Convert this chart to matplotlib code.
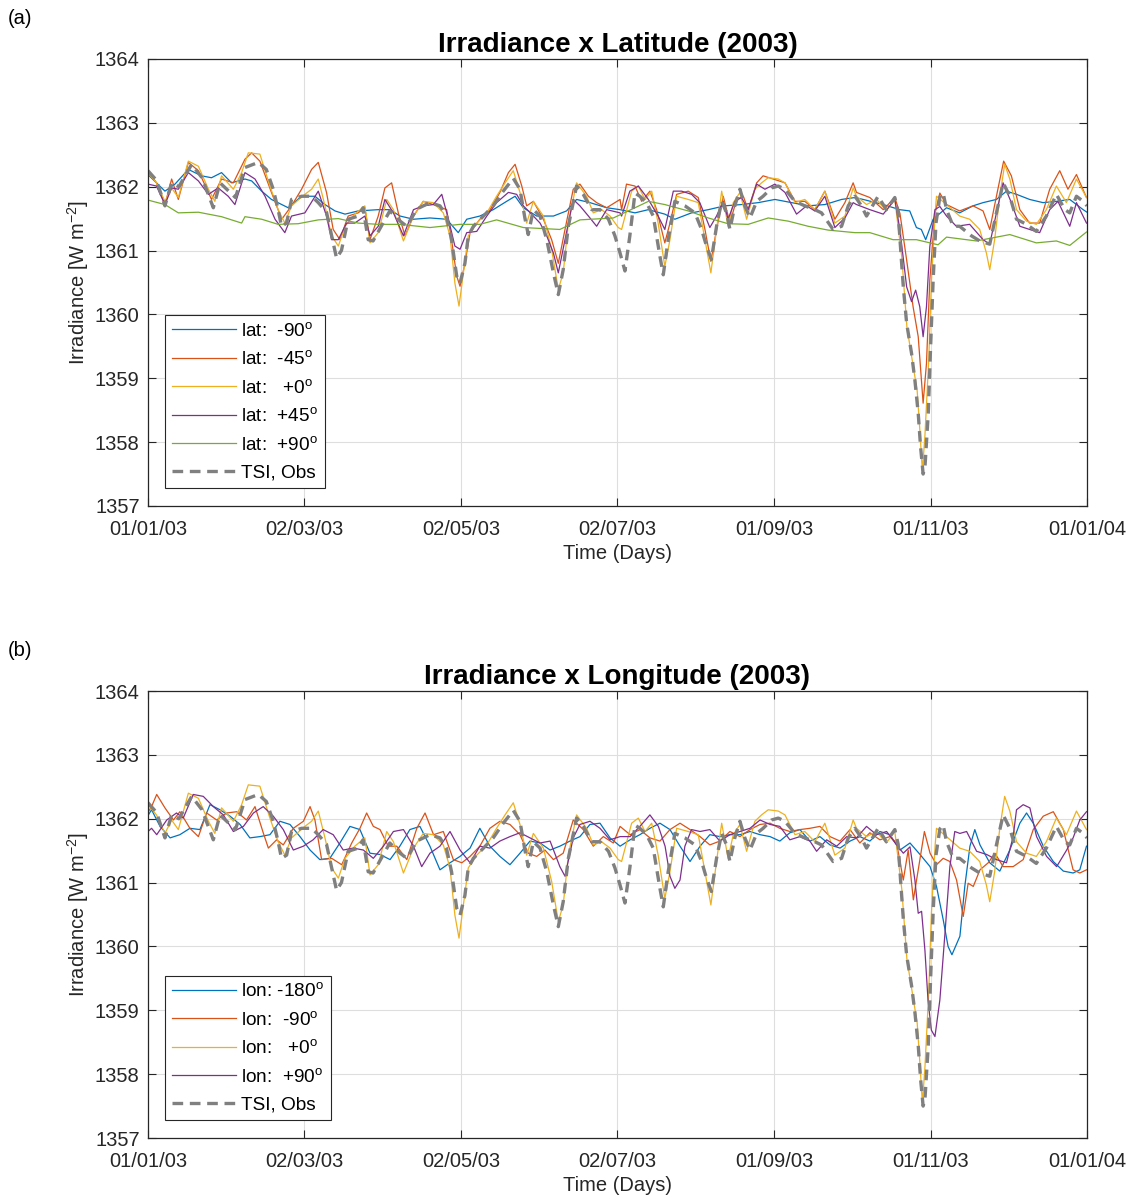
import matplotlib
matplotlib.use("Agg")
import matplotlib.pyplot as plt

plt.rcParams['font.family'] = ['Liberation Sans', 'DejaVu Sans']
plt.rcParams['mathtext.fontset'] = 'custom'
plt.rcParams['mathtext.rm'] = 'Liberation Sans'
plt.rcParams['mathtext.default'] = 'regular'

# DATA  (day of year 2003, irradiance W m-2)
tick_days = [0, 60.83, 121.67, 182.5, 243.33, 304.17, 365]
tick_labels = ['01/01/03', '02/03/03', '02/05/03', '02/07/03', '01/09/03', '01/11/03', '01/01/04']

tsi_day = [0, 3.3, 6.6, 9.2, 12, 17, 21, 25.4, 28, 34, 37.7, 42.9, 46, 48.7, 50.6, 51.9, 53.9, 55.8,
           59.7, 63.6, 66.2, 69.4, 72, 73.3, 75.2, 77.8, 81.7, 83.6, 85.6, 87.5, 90, 94, 98, 100.6,
           104.5, 109.6, 113.5, 116, 118, 120, 121.3, 123.2, 124.5, 126.5, 130.4, 134.2, 138.1, 142,
           144.6, 146.5, 147.8, 149.8, 152.4, 155, 157.6, 159.5, 161.4, 163.4, 166.6, 169.2, 172.5,
           175.7, 179, 181.5, 183.5, 185.4, 187.3, 189.3, 191.2, 193.8, 196.4, 199, 200.3, 202.2,
           204.8, 208.7, 212.6, 215.2, 217.1, 219, 221, 223, 224.9, 226.2, 228.1, 230.1, 232, 234,
           236.6, 239.1, 242.4, 245, 247.6, 251.5, 255.3, 259.2, 261.8, 266.3, 269.6, 272.2, 274.8,
           277, 279.3, 283.8, 287, 290.3, 291.6, 292.6, 293.6, 294.9, 296.8, 298.1, 299.4, 300.3,
           301.3, 302, 303.3, 304.2, 305.2, 306.3, 307.8, 309.1, 310.4, 313, 315.5, 320.1, 323.3,
           327.2, 329.8, 332.4, 335, 337.6, 341.5, 345.3, 349.2, 353.1, 356.4, 358.3, 360.9, 363.5, 365]
tsi_val = [1362.25, 1362.10, 1361.70, 1362.06, 1362.00, 1362.35, 1362.14, 1361.67, 1362.06, 1361.83,
           1362.30, 1362.38, 1362.27, 1361.96, 1361.64, 1361.38, 1361.43, 1361.80, 1361.85, 1361.85,
           1361.75, 1361.60, 1361.12, 1360.88, 1361.00, 1361.49, 1361.54, 1361.67, 1361.17, 1361.15,
           1361.33, 1361.62, 1361.46, 1361.38, 1361.65, 1361.75, 1361.70, 1361.54, 1361.17, 1360.60,
           1360.49, 1360.80, 1361.23, 1361.38, 1361.54, 1361.70, 1361.93, 1362.13, 1361.96, 1361.51,
           1361.25, 1361.64, 1361.54, 1361.17, 1360.65, 1360.31, 1360.70, 1361.38, 1362.01, 1361.88,
           1361.64, 1361.64, 1361.49, 1361.23, 1360.96, 1360.68, 1361.23, 1361.90, 1361.85, 1361.75,
           1361.54, 1360.91, 1360.62, 1361.17, 1361.77, 1361.70, 1361.59, 1361.33, 1361.07, 1360.86,
           1361.38, 1361.77, 1361.59, 1361.33, 1361.70, 1361.96, 1361.70, 1361.51, 1361.77, 1361.85,
           1361.98, 1362.01, 1361.96, 1361.77, 1361.70, 1361.64, 1361.59, 1361.33, 1361.38, 1361.70,
           1361.85, 1361.72, 1361.54, 1361.85, 1361.64, 1361.83, 1361.60, 1361.00, 1360.43, 1359.86,
           1359.39, 1358.97, 1358.45, 1357.93, 1357.50, 1357.60, 1358.45, 1359.49, 1360.54, 1361.43,
           1361.84, 1361.90, 1361.64, 1361.38, 1361.38, 1361.23, 1361.15, 1361.10, 1361.59, 1362.06,
           1361.85, 1361.49, 1361.41, 1361.30, 1361.54, 1361.88, 1361.64, 1361.59, 1361.85, 1361.77,
           1361.70]

# latitude -90
latm90_day = [0, 6.6, 10.5, 15.7, 20.8, 24.7, 28.6, 32.5, 37.7, 40.3, 44.2, 48, 52, 54.5, 59.7, 64.9,
              68.8, 72.7, 76.6, 81.7, 89.5, 94, 98, 103.2, 109.6, 116.1, 120.6, 123.9, 129, 134.2,
              139.4, 142.7, 145.9, 151.1, 157.6, 162.7, 166.6, 171.8, 178.3, 183.5, 189.3, 194.5,
              200.9, 204.8, 211.3, 217.8, 224.2, 230.7, 237.2, 243.7, 250.2, 256.6, 263.1, 269.6,
              274.8, 278, 285.8, 292.2, 296.1, 298.7, 300.6, 302.3, 305.2, 310.4, 315.5, 320.7, 324.6,
              329.8, 333.7, 337.6, 342.7, 347.9, 353.1, 358.3, 363.5, 365]
latm90_val = [1362.19, 1361.93, 1362.04, 1362.27, 1362.17, 1362.14, 1362.22, 1362.06, 1362.12, 1362.09,
              1361.93, 1361.80, 1361.72, 1361.67, 1361.85, 1361.85, 1361.72, 1361.62, 1361.57, 1361.62,
              1361.64, 1361.64, 1361.54, 1361.49, 1361.51, 1361.49, 1361.28, 1361.49, 1361.54, 1361.64,
              1361.77, 1361.85, 1361.67, 1361.54, 1361.54, 1361.62, 1361.80, 1361.75, 1361.67, 1361.64,
              1361.59, 1361.64, 1361.57, 1361.49, 1361.59, 1361.64, 1361.70, 1361.72, 1361.75, 1361.80,
              1361.75, 1361.70, 1361.72, 1361.80, 1361.83, 1361.80, 1361.72, 1361.64, 1361.62, 1361.36,
              1361.33, 1361.17, 1361.49, 1361.67, 1361.59, 1361.70, 1361.75, 1361.80, 1361.93, 1361.88,
              1361.80, 1361.75, 1361.77, 1361.80, 1361.64, 1361.60]

# latitude -45
latm45_day = [0, 3.3, 6.6, 9.2, 11.8, 15.7, 19.6, 24.7, 28.6, 33.2, 37.7, 40.3, 43.5, 48, 52, 55.8, 59.7,
              63.6, 66.2, 69.4, 72, 74.6, 77.8, 81.7, 84.3, 86.3, 89.5, 92.1, 94.7, 97.3, 99.9, 103.2,
              107, 110.9, 116.1, 118, 120, 121.3, 123.2, 125.2, 129, 133, 136.8, 140.1, 142.7, 145.3,
              147.2, 149.8, 153.7, 156.9, 159.5, 162.1, 165.3, 167.9, 171.2, 174.4, 178.3, 183.5, 184.1,
              186, 189.3, 191.9, 195.1, 197.7, 200.9, 202.9, 205.5, 210, 213.9, 216.5, 218.8, 221,
              223.6, 226.2, 228.8, 231.4, 233.3, 236.6, 239.1, 243, 247.6, 251.5, 255.3, 259.2, 263.1,
              267, 270.9, 274.1, 275.4, 280.6, 285.8, 290.3, 292.3, 294.9, 297.4, 299.4, 301.3, 302.6,
              303.9, 305.9, 307.8, 310.4, 315.5, 320.7, 324.6, 327.2, 329.8, 332.6, 335.6, 338.9, 342.7,
              346.6, 350.5, 354.4, 357.6, 360.9, 364.8]
latm45_val = [1362.25, 1362.06, 1361.72, 1362.12, 1361.80, 1362.38, 1362.25, 1361.80, 1362.12, 1362.06,
              1362.43, 1362.53, 1362.40, 1361.91, 1361.49, 1361.70, 1361.96, 1362.27, 1362.38, 1361.91,
              1361.33, 1361.17, 1361.54, 1361.59, 1361.67, 1361.17, 1361.54, 1361.98, 1362.06, 1361.59,
              1361.23, 1361.54, 1361.77, 1361.72, 1361.64, 1361.17, 1360.60, 1360.44, 1360.80, 1361.28,
              1361.49, 1361.64, 1361.91, 1362.22, 1362.35, 1362.01, 1361.70, 1361.77, 1361.49, 1361.17,
              1360.80, 1361.33, 1361.96, 1362.04, 1361.85, 1361.75, 1361.67, 1361.80, 1361.64, 1362.04,
              1362.01, 1361.77, 1361.93, 1361.64, 1361.12, 1361.43, 1361.88, 1361.93, 1361.83, 1361.33,
              1360.83, 1361.33, 1361.85, 1361.43, 1361.80, 1361.85, 1361.64, 1362.06, 1362.17, 1362.12,
              1362.06, 1361.77, 1361.77, 1361.64, 1361.93, 1361.49, 1361.75, 1362.06, 1361.91, 1361.83,
              1361.64, 1361.83, 1361.58, 1360.85, 1360.12, 1359.65, 1358.61, 1359.23, 1360.54, 1361.58,
              1361.90, 1361.72, 1361.62, 1361.70, 1361.62, 1361.33, 1361.85, 1362.40, 1362.17, 1361.64,
              1361.43, 1361.43, 1361.96, 1362.25, 1361.96, 1362.19, 1361.83]

# latitude 0
lat0_day = [0, 3.3, 6.6, 9.2, 11.8, 15.7, 19.6, 23.5, 26, 28.6, 33.2, 36.4, 39, 43.5, 47.4, 50.6, 53.2,
            55.8, 61, 63.6, 66.2, 68.8, 71.4, 74, 76.6, 80.4, 84.3, 86.3, 89.5, 92.8, 95.4, 99.3, 103.2,
            107, 110.9, 114.8, 117.4, 119.3, 120.9, 122.6, 124.5, 127.8, 131.7, 135.5, 138.8, 142,
            144.6, 147.2, 149.8, 153.7, 156.9, 159.5, 161.4, 163.4, 166.6, 170.5, 173.1, 176.3, 179.6,
            182.8, 184.1, 188, 190.6, 193.2, 195.8, 198.3, 200.9, 202.9, 205.5, 210, 213.9, 216.5,
            218.8, 221, 223, 225.5, 227.5, 230.1, 232.7, 235.9, 238.5, 241.1, 245, 247.6, 251.5, 255.3,
            259.2, 263.1, 267, 270.9, 274.1, 275.4, 279.3, 283.2, 287, 290.3, 293, 295, 297, 299, 300,
            301, 302, 303.5, 304.5, 306, 306.5, 310.4, 315.5, 319.4, 323.3, 325.9, 327.2, 329.1, 331.1,
            333, 335, 337.6, 341.5, 345.3, 349.2, 353.1, 357, 360.9, 364.8]
lat0_val = [1362.22, 1362.06, 1361.77, 1361.98, 1361.83, 1362.40, 1362.32, 1361.96, 1361.77, 1362.17,
            1361.96, 1362.22, 1362.53, 1362.51, 1362.01, 1361.64, 1361.43, 1361.70, 1361.88, 1361.96,
            1362.12, 1361.70, 1361.23, 1361.07, 1361.38, 1361.57, 1361.70, 1361.12, 1361.28, 1361.80,
            1361.64, 1361.15, 1361.54, 1361.77, 1361.75, 1361.59, 1361.23, 1360.49, 1360.13, 1360.65,
            1361.23, 1361.43, 1361.59, 1361.85, 1362.06, 1362.25, 1361.91, 1361.43, 1361.77, 1361.54,
            1361.02, 1360.39, 1360.65, 1361.43, 1362.06, 1361.85, 1361.59, 1361.64, 1361.54, 1361.36,
            1361.33, 1361.93, 1362.01, 1361.80, 1361.93, 1361.43, 1360.75, 1361.17, 1361.85, 1361.80,
            1361.75, 1361.17, 1360.65, 1361.33, 1361.93, 1361.38, 1361.75, 1361.91, 1361.49, 1361.96,
            1362.06, 1362.14, 1362.12, 1362.06, 1361.75, 1361.80, 1361.64, 1361.93, 1361.43, 1361.54,
            1361.98, 1361.85, 1361.72, 1361.80, 1361.62, 1361.80, 1360.90, 1359.80, 1359.30, 1358.80,
            1358.20, 1357.55, 1358.10, 1359.30, 1360.50, 1361.60, 1361.85, 1361.72, 1361.54, 1361.49,
            1361.33, 1360.96, 1360.70, 1361.17, 1361.85, 1362.35, 1362.12, 1361.64, 1361.46, 1361.41,
            1361.64, 1362.01, 1361.75, 1362.12, 1361.83]

# latitude +45
lat45_day = [0, 3.3, 6.6, 9.2, 11.8, 15.7, 19.6, 23.5, 27.3, 31.2, 33.8, 37.7, 41.6, 45.5, 49.4, 53.2,
             55.8, 61, 66.2, 69.4, 71.4, 74, 77.2, 80.4, 84.3, 86.3, 89.5, 92.1, 95.4, 99.3, 103.2, 107,
             110.9, 114.2, 116.8, 119.3, 121.3, 123.9, 127.8, 131.7, 135.5, 140.1, 143.3, 145.9, 149.1,
             152.4, 155, 157.6, 159.5, 162.1, 165.3, 167.9, 171.2, 174.4, 178.3, 183.5, 184.1, 187.3,
             190.6, 194.5, 198.3, 200.9, 204.2, 207.4, 211.3, 214.5, 218.4, 221, 223.6, 225.5, 228.1,
             230.7, 233.3, 236.6, 239.8, 243.7, 247.6, 252.1, 256, 259.2, 263.1, 267, 270.9, 274.1,
             275.4, 280.6, 285.8, 290.3, 292.3, 294.9, 296.8, 298.4, 300, 301.3, 302.6, 303.9, 305.9,
             307.8, 310.4, 314.2, 319.4, 324.6, 327.2, 329.8, 332.4, 335.6, 338.9, 342.7, 346.6, 350.5,
             353.7, 358.3, 360.9, 364.8]
lat45_val = [1362.04, 1362.01, 1361.72, 1361.98, 1361.96, 1362.22, 1362.09, 1361.88, 1361.98, 1361.85,
             1361.72, 1362.22, 1362.12, 1361.85, 1361.49, 1361.28, 1361.54, 1361.59, 1361.93, 1361.54,
             1361.17, 1361.17, 1361.43, 1361.43, 1361.54, 1361.23, 1361.38, 1361.80, 1361.59, 1361.23,
             1361.64, 1361.70, 1361.72, 1361.88, 1361.49, 1361.07, 1361.02, 1361.28, 1361.30, 1361.54,
             1361.75, 1361.91, 1361.88, 1361.70, 1361.57, 1361.43, 1361.23, 1360.96, 1360.65, 1361.17,
             1361.80, 1361.70, 1361.54, 1361.38, 1361.64, 1361.59, 1361.54, 1361.93, 1362.01, 1361.80,
             1361.54, 1361.33, 1361.93, 1361.93, 1361.88, 1361.75, 1361.36, 1361.54, 1361.77, 1361.49,
             1361.77, 1361.83, 1361.64, 1362.04, 1361.96, 1362.04, 1361.91, 1361.57, 1361.70, 1361.62,
             1361.85, 1361.36, 1361.51, 1361.75, 1361.72, 1361.64, 1361.57, 1361.80, 1361.32, 1360.43,
             1360.20, 1360.38, 1360.12, 1359.65, 1360.12, 1361.06, 1361.64, 1361.69, 1361.54, 1361.38,
             1361.41, 1361.17, 1361.10, 1361.59, 1362.06, 1361.75, 1361.38, 1361.33, 1361.28, 1361.64,
             1361.77, 1361.38, 1361.75, 1361.43]

# latitude +90
lat90_day = [0, 6.6, 11.8, 19.6, 28.6, 36.4, 37.7, 44.2, 50.6, 58.4, 66.2, 74, 81.7, 89.5, 98, 109.6,
             121.3, 129, 135.5, 145.9, 160.1, 167.9, 180.9, 189.3, 194.5, 200.9, 210, 217.8, 225.5,
             233.3, 241.1, 248.9, 256.6, 264.4, 274.8, 280.6, 289.6, 298.7, 307.1, 310.4, 322, 335,
             345.3, 353.1, 358.3, 364.8]
lat90_val = [1361.79, 1361.72, 1361.59, 1361.60, 1361.53, 1361.43, 1361.53, 1361.49, 1361.41, 1361.42,
             1361.48, 1361.50, 1361.43, 1361.41, 1361.41, 1361.36, 1361.41, 1361.41, 1361.48, 1361.36,
             1361.33, 1361.48, 1361.51, 1361.67, 1361.77, 1361.72, 1361.62, 1361.51, 1361.42, 1361.41,
             1361.51, 1361.46, 1361.38, 1361.32, 1361.28, 1361.28, 1361.17, 1361.17, 1361.09, 1361.21,
             1361.15, 1361.25, 1361.12, 1361.15, 1361.08, 1361.29]

# longitude -180
lonm180_day = [0, 1.4, 4.7, 8.6, 12.4, 16.3, 20.2, 24.1, 28, 31.9, 35.8, 39.6, 43.5, 47.4, 51.3, 55.2,
               59.1, 63, 66.8, 70.7, 74.6, 78.5, 82.4, 86.3, 90.2, 94.1, 97.9, 101.8, 105.7, 109.6,
               113.5, 117.4, 121.3, 125.2, 129, 132.9, 136.8, 140.7, 144.6, 148.5, 152.4, 156.3, 160.1,
               164, 167.9, 171.8, 175.7, 179.6, 183.5, 187.4, 191.2, 195.1, 199, 202.9, 206.8, 210.7,
               214.6, 218.4, 222.3, 226.2, 230.1, 234, 237.9, 241.8, 245.6, 249.5, 253.4, 257.3, 261.2,
               265.1, 269, 272.9, 276.7, 280.6, 284.5, 288.4, 292.3, 296.2, 300.1, 304, 306.5, 309.1,
               311, 312.5, 315.6, 317.5, 319.5, 321.4, 323.4, 327.2, 331.1, 335, 338.9, 341.5, 344.1,
               348, 351.9, 355.8, 359.6, 362.2, 364.8]
lonm180_val = [1362.05, 1362.14, 1361.88, 1361.70, 1361.75, 1361.85, 1361.83, 1362.22, 1362.14, 1362.04,
               1361.91, 1361.70, 1361.72, 1361.75, 1361.96, 1361.91, 1361.72, 1361.51, 1361.36, 1361.38,
               1361.62, 1361.88, 1361.83, 1361.46, 1361.44, 1361.36, 1361.57, 1361.83, 1361.88, 1361.57,
               1361.20, 1361.31, 1361.41, 1361.54, 1361.85, 1361.57, 1361.41, 1361.28, 1361.46, 1361.65,
               1361.62, 1361.51, 1361.57, 1361.65, 1361.72, 1361.91, 1361.93, 1361.70, 1361.57, 1361.67,
               1361.75, 1361.85, 1361.93, 1361.83, 1361.57, 1361.33, 1361.57, 1361.75, 1361.72, 1361.75,
               1361.75, 1361.80, 1361.75, 1361.72, 1361.65, 1361.78, 1361.83, 1361.65, 1361.72, 1361.59,
               1361.54, 1361.65, 1361.72, 1361.65, 1361.80, 1361.75, 1361.51, 1361.62, 1361.44, 1361.25,
               1360.94, 1360.42, 1360.00, 1359.87, 1360.16, 1360.94, 1361.57, 1361.83, 1361.59, 1361.31,
               1361.18, 1361.51, 1361.93, 1362.09, 1361.93, 1361.57, 1361.33, 1361.18, 1361.15, 1361.20,
               1361.57]

# longitude -90
lonm90_day = [0, 1.4, 3.4, 6.6, 9.9, 12.4, 16.3, 19.6, 22.8, 26.7, 30.6, 34.5, 38.3, 41.6, 44.8, 46.8,
              50, 52.6, 56.5, 60.4, 63, 64.9, 67.5, 71.4, 75.3, 79.2, 82.4, 85, 87.6, 90.2, 93.4, 96.7,
              100.6, 104.5, 107.7, 111, 114.8, 118.7, 122, 125.2, 129, 132.9, 136.8, 140.7, 144.6,
              147.8, 151.1, 154.3, 157.6, 161.4, 165.3, 169.2, 173.1, 177, 180.9, 183.5, 187.4, 191.2,
              195.1, 199, 202.9, 206.8, 210.7, 214.6, 218.4, 222.3, 226.2, 230.1, 234, 237.9, 241.8,
              245.6, 249.5, 253.4, 257.3, 261.2, 265.1, 269, 272.9, 276.7, 280.6, 284.5, 288.4, 291,
              293.6, 295.5, 297.5, 299.4, 301.8, 304, 306.5, 309.1, 311.7, 314.3, 316.9, 318.8, 320.8,
              323.4, 326.6, 329.2, 332.4, 336.3, 340.2, 344.1, 348, 351.9, 355.8, 359.6, 362.2, 364.8]
lonm90_val = [1362.10, 1362.19, 1362.38, 1362.17, 1361.98, 1362.11, 1361.85, 1361.72, 1362.09, 1361.98,
              1362.09, 1362.11, 1361.98, 1362.19, 1361.78, 1361.54, 1361.67, 1361.59, 1361.85, 1361.96,
              1362.19, 1361.98, 1361.36, 1361.38, 1361.28, 1361.62, 1361.85, 1362.09, 1361.88, 1361.83,
              1361.57, 1361.57, 1361.36, 1361.85, 1362.09, 1361.75, 1361.80, 1361.36, 1361.31, 1361.41,
              1361.57, 1361.85, 1361.96, 1361.91, 1361.75, 1361.46, 1361.41, 1361.51, 1361.36, 1361.46,
              1361.98, 1361.83, 1361.57, 1361.72, 1361.62, 1361.88, 1361.75, 1361.83, 1361.70, 1361.65,
              1361.83, 1361.93, 1361.83, 1361.72, 1361.59, 1361.65, 1361.80, 1361.72, 1361.83, 1361.91,
              1361.93, 1361.85, 1361.80, 1361.83, 1361.85, 1361.88, 1361.72, 1361.65, 1361.83, 1361.62,
              1361.78, 1361.67, 1361.72, 1361.62, 1361.04, 1361.51, 1360.73, 1361.20, 1361.80, 1361.46,
              1361.28, 1361.38, 1361.33, 1361.04, 1360.47, 1360.99, 1360.94, 1361.20, 1361.31, 1361.46,
              1361.25, 1361.25, 1361.36, 1361.83, 1362.04, 1362.11, 1361.83, 1361.20, 1361.15, 1361.20]

# longitude +90
lon90_day = [0, 1.4, 3.4, 7.3, 11.1, 13.7, 17.6, 21.5, 25.4, 29.3, 33.2, 37.1, 41, 44.8, 48.7, 52.6,
             56.5, 60.4, 64.2, 68.1, 72, 75.9, 79.8, 83.7, 87.6, 91.5, 95.4, 99.3, 103.2, 106.4, 109.6,
             113.5, 117.4, 121.3, 125.2, 129, 132.9, 136.8, 140.7, 144.6, 148.5, 152.4, 156.3, 160.1,
             162.1, 165.3, 167.9, 171.8, 175.7, 179.6, 183.5, 187.4, 191.2, 195.1, 198.4, 201, 202.9,
             204.8, 206.8, 208.7, 211.3, 214.6, 218.4, 222.3, 226.2, 230.1, 234, 237.9, 241.8, 245.6,
             249.5, 253.4, 257.3, 259.9, 263.8, 267.7, 271.6, 275.4, 279.3, 283.2, 287.1, 291, 293.6,
             296.2, 298.1, 299.4, 300.7, 302, 303.2, 304.5, 305.9, 307.8, 309.8, 311.7, 313.6, 315.6,
             318.2, 322.1, 326, 329.8, 333.7, 336.3, 337.6, 340.2, 342.8, 345.4, 349.3, 353.2, 357.1,
             359.6, 362.2, 364.8]
lon90_val = [1361.80, 1361.85, 1361.75, 1361.98, 1362.09, 1362.01, 1362.38, 1362.35, 1362.19, 1362.06,
             1361.80, 1361.88, 1362.09, 1362.19, 1362.04, 1361.83, 1361.51, 1361.57, 1361.67, 1361.83,
             1361.75, 1361.51, 1361.54, 1361.51, 1361.38, 1361.57, 1361.80, 1361.83, 1361.57, 1361.25,
             1361.46, 1361.57, 1361.80, 1361.51, 1361.31, 1361.57, 1361.54, 1361.65, 1361.72, 1361.78,
             1361.70, 1361.62, 1361.65, 1361.25, 1361.10, 1361.70, 1361.91, 1361.96, 1361.85, 1361.67,
             1361.72, 1361.72, 1361.88, 1362.06, 1361.88, 1361.57, 1361.10, 1360.91, 1361.04, 1361.57,
             1361.83, 1361.80, 1361.83, 1361.65, 1361.75, 1361.80, 1361.85, 1361.98, 1361.91, 1361.88,
             1361.67, 1361.72, 1361.65, 1361.49, 1361.67, 1361.57, 1361.72, 1361.70, 1361.88, 1361.75,
             1361.80, 1361.59, 1361.46, 1361.56, 1361.04, 1360.52, 1360.55, 1359.94, 1359.16, 1358.69,
             1358.59, 1359.16, 1360.21, 1361.25, 1361.80, 1361.77, 1361.80, 1361.49, 1361.44, 1361.36,
             1361.31, 1361.72, 1362.14, 1362.22, 1362.17, 1361.72, 1361.41, 1361.25, 1361.51, 1361.70,
             1361.98, 1362.11]

# STYLE
c_blue, c_orange, c_yellow = '#0072BD', '#D95319', '#EDB120'
c_purple, c_green, c_gray = '#7E2F8E', '#77AC30', '#808080'
deg = '$^{o}$'
fs = 14.5

fig = plt.figure(figsize=(11.33, 12.03), dpi=100)
ax_a = fig.add_axes([0.1306, 0.5794, 0.8288, 0.3716])
ax_b = fig.add_axes([0.1306, 0.0540, 0.8288, 0.3716])


def style_axes(ax, title):
    ax.set_xlim(0, 365)
    ax.set_ylim(1357, 1364)
    ax.set_xticks(tick_days)
    ax.set_xticklabels(tick_labels)
    ax.set_yticks(range(1357, 1365))
    ax.grid(True, color='#dedede', linewidth=0.8)
    ax.set_axisbelow(True)
    ax.tick_params(direction='in', length=6, top=True, right=True, labelsize=fs,
                   colors='#262626', width=0.8)
    ax.tick_params(axis='x', pad=10)
    ax.tick_params(axis='y', pad=6)
    for s in ax.spines.values():
        s.set_color('#262626')
        s.set_linewidth(0.9)
    ax.set_xlabel('Time (Days)', fontsize=fs, color='#262626', labelpad=4)
    ax.set_ylabel('Irradiance [W m$^{-2}$]', fontsize=fs, color='#262626', labelpad=3)
    ax.set_title(title, fontsize=20, fontweight='bold', pad=5)


lw = 0.9
dash = (0, (3.2, 2.0))
ax_a.plot(latm90_day, latm90_val, color=c_blue, lw=lw, label='lat:  -90' + deg)
ax_a.plot(latm45_day, latm45_val, color=c_orange, lw=lw, label='lat:  -45' + deg)
ax_a.plot(lat0_day, lat0_val, color=c_yellow, lw=lw, label='lat:   +0' + deg)
ax_a.plot(lat45_day, lat45_val, color=c_purple, lw=lw, label='lat:  +45' + deg)
ax_a.plot(lat90_day, lat90_val, color=c_green, lw=lw, label='lat:  +90' + deg)
ax_a.plot(tsi_day, tsi_val, color=c_gray, lw=2.4, ls=dash, label='TSI, Obs')
style_axes(ax_a, 'Irradiance x Latitude (2003)')

ax_b.plot(lonm180_day, lonm180_val, color=c_blue, lw=lw, label='lon: -180' + deg)
ax_b.plot(lonm90_day, lonm90_val, color=c_orange, lw=lw, label='lon:  -90' + deg)
ax_b.plot(lat0_day, lat0_val, color=c_yellow, lw=lw, label='lon:   +0' + deg)
ax_b.plot(lon90_day, lon90_val, color=c_purple, lw=lw, label='lon:  +90' + deg)
ax_b.plot(tsi_day, tsi_val, color=c_gray, lw=2.4, ls=dash, label='TSI, Obs')
style_axes(ax_b, 'Irradiance x Longitude (2003)')

for ax in (ax_a, ax_b):
    leg = ax.legend(loc='lower left', bbox_to_anchor=(0.018, 0.04), borderaxespad=0,
                    fontsize=13.7, handlelength=3.4, handletextpad=0.25, labelspacing=0.55,
                    borderpad=0.35, fancybox=False, framealpha=1, edgecolor='#262626')
    leg.get_frame().set_linewidth(0.8)

fig.text(0.007, 0.985, '(a)', fontsize=fs, va='center', ha='left')
fig.text(0.007, 0.459, '(b)', fontsize=fs, va='center', ha='left')

fig.savefig('out.png', dpi=100)
